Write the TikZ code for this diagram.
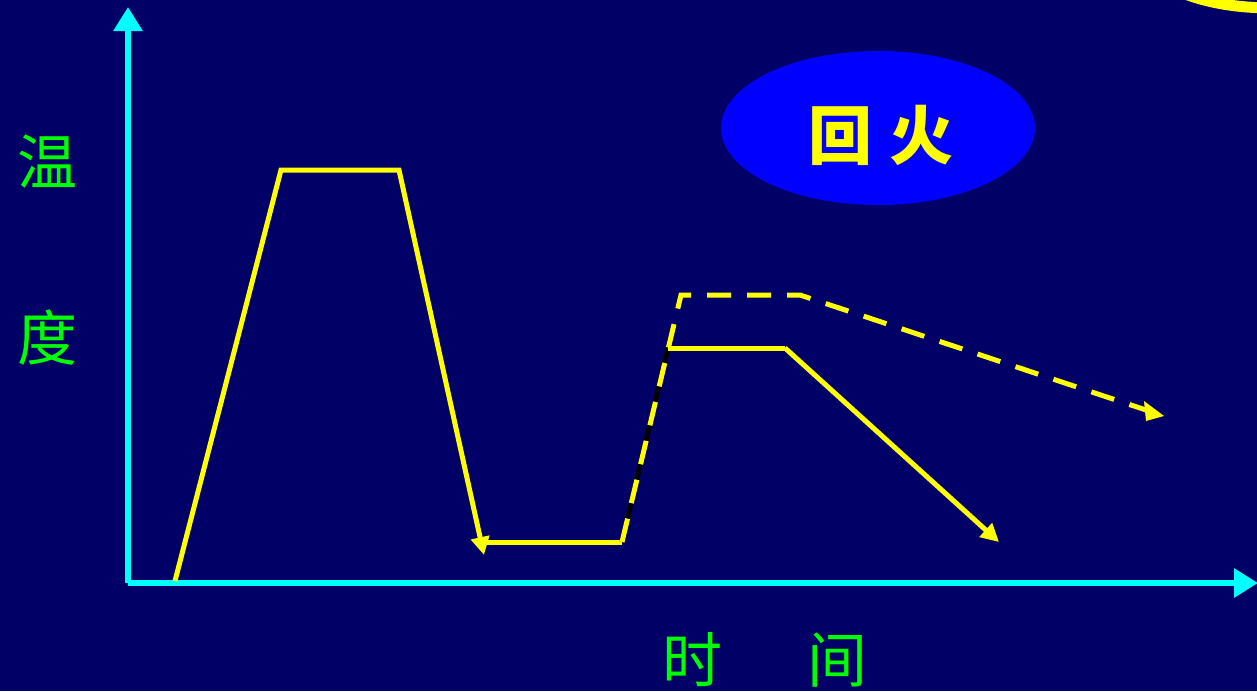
\documentclass[tikz,border=0pt]{standalone}
\usepackage{fontspec}
\newfontfamily\cjk{Noto Sans CJK SC}
\usetikzlibrary{arrows.meta,shapes.geometric}
\definecolor{bgnavy}{HTML}{000066}
\definecolor{axcyan}{HTML}{00FFFF}
\definecolor{curveyellow}{HTML}{FFFF00}
\definecolor{labelgreen}{HTML}{00FF00}
\definecolor{ovalblue}{HTML}{0000FF}
\begin{document}
\begin{tikzpicture}[x=1pt,y=-1pt,
  axis/.style={draw=axcyan,line width=6pt,-{Triangle[length=24pt,width=28pt]}},
  curve/.style={draw=curveyellow,line width=5pt},
  curvearrow/.style={curve,-{Triangle[length=18pt,width=18pt]}},
  dashcurve/.style={curve,dash pattern=on 24pt off 16pt},
  lbl/.style={text=labelgreen,font=\cjk\fontsize{60}{64}\selectfont,inner sep=0pt}]
\fill[bgnavy] (0,0) rectangle (1257,691);
\useasboundingbox (0,0) rectangle (1257,691);
% top-right yellow arc
\draw[curveyellow,line width=11pt] (1180,-8) .. controls (1210,4) and (1240,8) .. (1275,8);
% axes
\coordinate (O) at (128,583);
\coordinate (Ytop) at (128,7);
\coordinate (Xend) at (1258,583);
\draw[axis] (O) -- (Ytop);
\draw[axis] (O) -- (Xend);
% labels
\node[lbl] (wen) at (47,162) {温};
\node[lbl] (du) at (47,338) {度};
\node[lbl] (shi) at (692,660) {时};
\node[lbl] (jian) at (837,660) {间};
% quench curve
\coordinate (a0) at (175,581);
\coordinate (a1) at (281,170);
\coordinate (a2) at (399,170);
\coordinate (a3) at (484,555);
\coordinate (b0) at (486,542);
\coordinate (b1) at (622,542);
\coordinate (c1) at (668,348);
\coordinate (c2) at (785,348);
\coordinate (c3) at (999,542);
\coordinate (d1) at (681,295);
\coordinate (d2) at (800,295);
\coordinate (d3) at (1164,416);
\draw[curvearrow] (a0) -- (a1) -- (a2) -- (a3);
\draw[curve] (b0) -- (b1);
\draw[draw=black,line width=5pt] (b1) -- (c1);
\draw[curve] (c1) -- (c2);
\draw[curvearrow] (c2) -- (c3);
\draw[dashcurve] (b1) -- (d1) -- (d2) -- (d3);
\fill[curveyellow] (d3) -- ++(-20,-15) -- ++(2,20) -- cycle;
% oval
\node[ellipse,fill=ovalblue,minimum width=314pt,minimum height=154pt,inner sep=0pt] (oval) at (878,128) {};
\node[text=curveyellow,font=\cjk\bfseries\fontsize{64}{68}\selectfont,inner sep=0pt] (huihuo) at (881,135) {回\hspace{18pt}火};
\end{tikzpicture}
\end{document}
